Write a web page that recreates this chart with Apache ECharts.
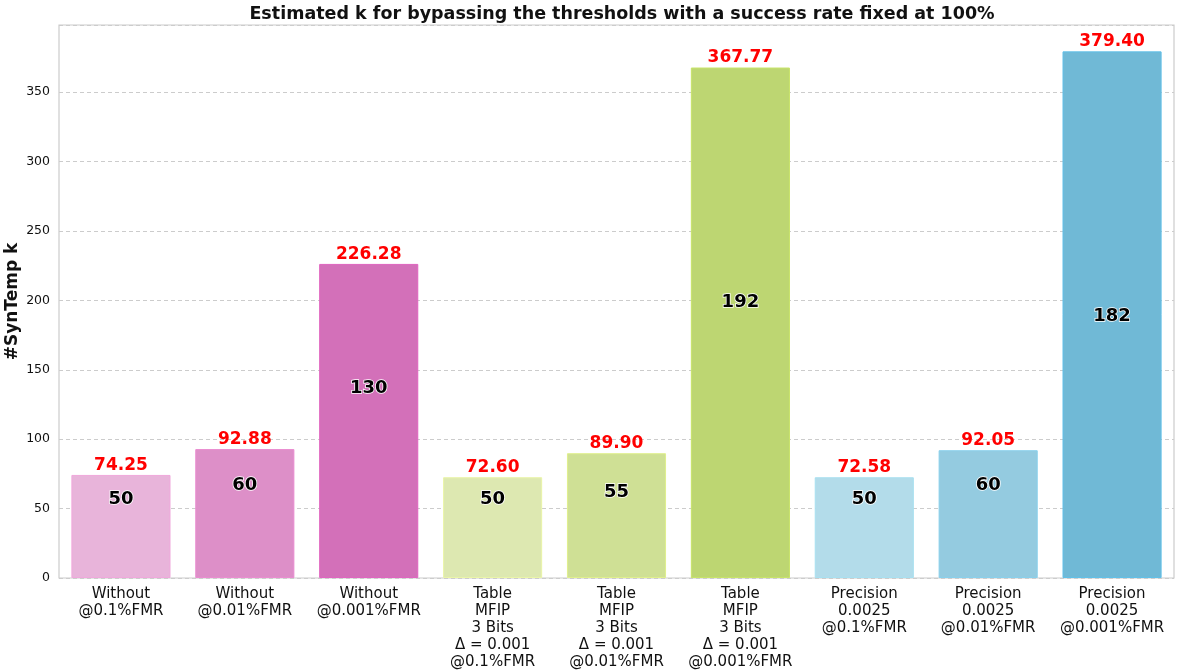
<!DOCTYPE html>
<html>
<head>
<meta charset="utf-8">
<title>Estimated k</title>
<script src="https://cdn.jsdelivr.net/npm/echarts@6/dist/echarts.min.js"></script>
<style>
  html, body { margin: 0; padding: 0; background: #fff; }
  #chart { width: 1178px; height: 672px; }
</style>
</head>
<body>
<div id="chart"></div>
<script>
// categories on the x axis
var categories = [
    'Without\n@0.1%FMR',
    'Without\n@0.01%FMR',
    'Without\n@0.001%FMR',
    'Table\nMFIP\n3 Bits\nΔ = 0.001\n@0.1%FMR',
    'Table\nMFIP\n3 Bits\nΔ = 0.001\n@0.01%FMR',
    'Table\nMFIP\n3 Bits\nΔ = 0.001\n@0.001%FMR',
    'Precision\n0.0025\n@0.1%FMR',
    'Precision\n0.0025\n@0.01%FMR',
    'Precision\n0.0025\n@0.001%FMR'
]
// estimated k (bar heights, red labels)
var estimatedK = [74.25, 92.88, 226.28, 72.60, 89.90, 367.77, 72.58, 92.05, 379.40]
// SynTemp k (black labels)
var synTempK = [50, 60, 130, 50, 55, 192, 50, 60, 182]
// bar colours
var barColors = ['#e8b4da', '#dd8fc8', '#d370b9', '#dde8b1', '#cfe095', '#bdd672', '#b3dcea', '#94cbe0', '#70b9d6']
var edgeColors = ['#f0a8dc', '#ea8cd0', '#e064c0', '#eaf5a8', '#e0f08c', '#c8e468', '#a8e0f0', '#88d0ec', '#60c0e8']

var chart = echarts.init(document.getElementById('chart'))

var mainData = estimatedK.map(function (v, i) {
    return {
        value: v,
        itemStyle: { color: barColors[i], borderColor: edgeColors[i], borderWidth: 1 }
    }
})

var option = {
    animation: false,
    title: {
        text: 'Estimated k for bypassing the thresholds with a success rate fixed at 100%',
        left: 617,
        textAlign: 'center',
        top: 0,
        textStyle: { fontFamily: 'DejaVu Sans', fontWeight: 'bold', fontSize: 17.5, color: '#111' }
    },
    grid: {
        left: 59, right: 4, top: 25, bottom: 94,
        outerBoundsMode: 'none',
        containLabel: false,
        show: true, borderColor: '#cccccc', borderWidth: 1.2
    },
    xAxis: {
        type: 'category',
        data: categories,
        axisLine: { show: false },
        axisTick: { show: false },
        axisLabel: {
            interval: 0,
            margin: 8,
            fontFamily: 'DejaVu Sans',
            fontSize: 15,
            lineHeight: 17,
            color: '#111'
        }
    },
    yAxis: {
        type: 'value',
        min: 0,
        max: 398.4,
        interval: 50,
        name: '#SynTemp k',
        nameLocation: 'middle',
        nameGap: 38,
        nameMoveOverlap: false,
        nameTextStyle: { fontFamily: 'DejaVu Sans', fontWeight: 'bold', fontSize: 17, color: '#111' },
        axisLine: { show: false },
        axisTick: { show: false },
        axisLabel: {
            fontFamily: 'DejaVu Sans',
            fontSize: 12.5,
            color: '#111',
            margin: 9,
            formatter: function (v) { return v % 50 === 0 ? String(v) : '' }
        },
        splitLine: { lineStyle: { color: '#cccccc', type: [4, 3], width: 1 } }
    },
    series: [
        {
            type: 'bar',
            data: mainData,
            barWidth: '80%',
            label: {
                show: true,
                position: 'top',
                distance: 1,
                fontFamily: 'DejaVu Sans',
                fontWeight: 'bold',
                fontSize: 17,
                color: '#ff0000',
                formatter: function (p) { return p.value.toFixed(2) }
            }
        },
        {
            type: 'bar',
            data: synTempK,
            barWidth: '80%',
            barGap: '-100%',
            silent: true,
            z: 3,
            itemStyle: { color: 'rgba(0,0,0,0)' },
            label: {
                show: true,
                position: 'top',
                distance: 0,
                fontFamily: 'DejaVu Sans',
                fontWeight: 'bold',
                fontSize: 18,
                color: '#000',
                textBorderColor: '#ffffff',
                textBorderWidth: 1.5
            }
        }
    ]
}

chart.setOption(option)
</script>
</body>
</html>
